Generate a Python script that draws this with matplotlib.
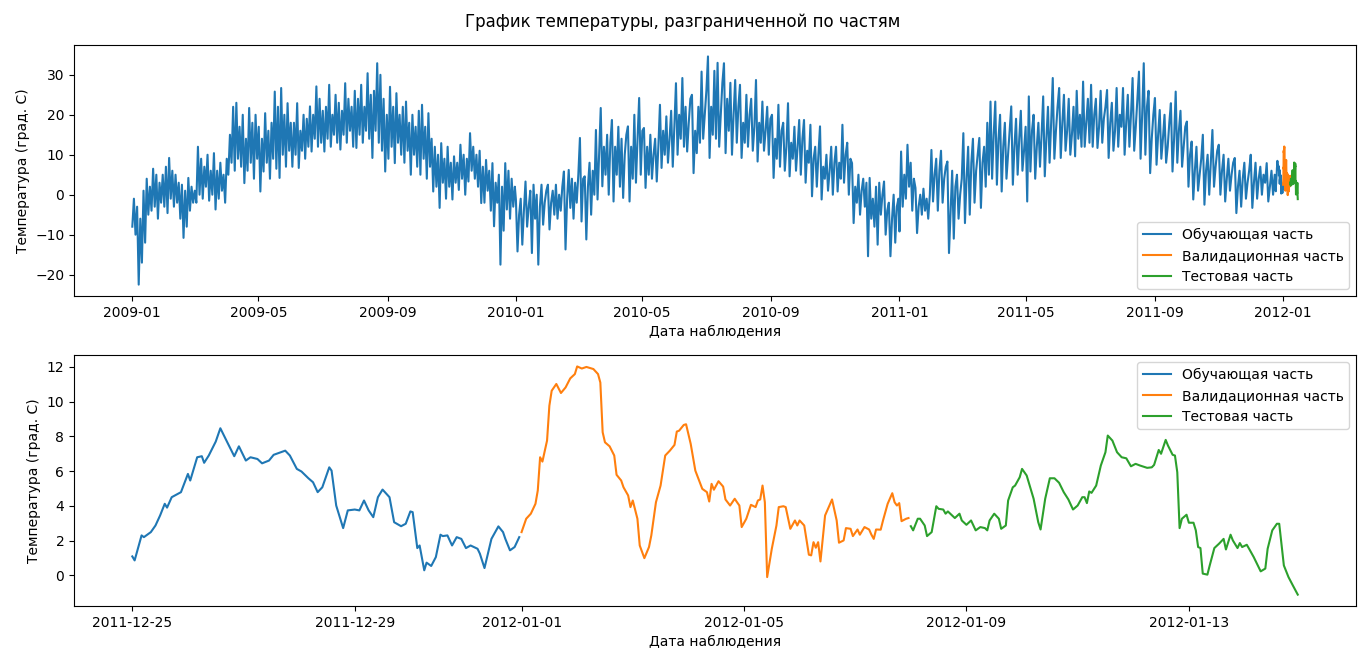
"""
График температуры, разграниченной по частям (обучающая / валидационная / тестовая).
"""
import pandas as pd
import matplotlib
matplotlib.use('Agg')
import matplotlib.pyplot as plt

# --- верхний график: значения (~каждые 1.5 дня) ---
blue_2009 = [
    -8, -1, -10, -3, -22.5, -6, -17, 1, -12, 4, -5, 2, -4, 6.5, -3, 5, -6, 3, -2, 5,            # янв
    -3, 7, -4.6, 9.2, -1, 6, -3, 5, -2, 3, -6, 2.5, -10.8, 1, -8, 4.2, -4, 2, -2, 1,            # фев
    -2, 12, 0, 9, -1, 7, 2, 10, -1.5, 6, 0, 10.4, -3.7, 6, -1, 8, 1, 5, -2, 9,                  # мар
    5, 15, 8, 22, 6, 23, 9, 17, 7, 20, 2.9, 14, 6, 21.7, 8, 18, 4, 20, 9, 17,                   # апр
    0.8, 14, 5.8, 20.4, 8, 16, 4, 18, 9, 25.8, 6.5, 22, 4.2, 26.7, 10, 20, 7, 22.9, 11, 18,     # май
    7, 18, 10, 22.9, 6.7, 16, 11, 20, 9, 19, 12, 22.1, 10.8, 20, 14, 27.1, 12, 24, 13, 21,      # июн
    10.8, 22, 14, 27.5, 12, 20, 15, 25, 13, 23, 11.3, 21, 15, 27.9, 13, 24, 16, 22, 12, 26,     # июл
    11.7, 24, 15, 27.5, 13, 22, 16, 30.4, 14, 25, 9.2, 26, 16, 32.9, 13, 30, 11, 24, 5.8, 20,   # авг
    9, 27, 12, 22, 7.9, 25.4, 13, 20, 10, 22, 8, 23.3, 11, 18, 5, 20, 10, 17, 7, 21,            # сен
    5, 22.5, 9, 17, 4, 20.4, 7, 14, 0.8, 12, 2, 10, -3.3, 12.9, 3, 9, -1, 12, 2, 8,             # окт
    -1.2, 9.6, 3, 8, 1.2, 12.5, 4, 10, 0, 9, 3.3, 15.4, 6, 12, 4, 10, 2, 11, -2.1, 7,           # ноя
    -2, 8.7, 1, 6, -4, 7.9, -7.9, 3, -2, 5, -17.5, 2, -9, 7.9, -3.7, 6, -6, 4, -3, 2,           # дек
]
blue_2010 = [
    -1.2, -14.2, -5, -1, -12.5, -4, 3.3, -8, -3, 1, -14.6, 2.5, -6, 0, -17.5, -3, 2.5, -7.5, -2, 1,
    2.5, -8.7, -2, 1, -5, 2.5, -6, 0, -4, 2, 5.8, -13.7, -1, 6.2, -3.3, 4, -6, 3, -2, 5,
    14.2, -6.7, 4, 4.6, -11.2, 2, 8, -5, 6, 0, 16.2, -1.2, 10, 21.7, 2.1, 12, 5, 15, 0, 13,
    18.7, -1.7, 12, 5, 17, 2, 14, -0.8, 10, 15, 17.1, -1.7, 12, 4, 20, 3, 14, 24.2, 5, 16,
    16.7, 1.7, 12, 5, 15, 4, 10, 14, 3.3, 12, 22.5, 6.7, 16, 10, 19.6, 8, 14, 21, 7, 17,
    27.9, 10, 20, 14, 29.2, 12, 22, 10.8, 18, 24, 25, 5.4, 16, 10.4, 22, 13, 30.8, 14, 20, 26,
    34.6, 9.2, 22, 15, 31, 14, 33, 12, 20, 28, 32.9, 10.4, 24, 16, 28, 10, 20, 28.7, 13, 22,
    27.5, 9.2, 18, 13, 25, 12, 20, 24, 11, 17, 28.7, 8.3, 18, 13, 23.3, 11, 16, 22, 10, 19,
    20, 4.2, 14, 9, 22.5, 7, 16, 18, 6, 12, 22.9, 4.6, 13, 9, 17, 6, 12, 18.7, 5, 14,
    18.7, 3, 11, 8, 17.5, -0.4, 9, 12, 2, 10, 17.1, -1.2, 7, 4, 10, 1, 6, 12, 0, 8,
    12, 0.8, 8, 4, 17.5, 3, 10, 13, 0, 9, 7.9, -7.1, 2, -2, 5, -5, 1, 4, -3, 3,
    -15.4, 4.2, -6, -1, -8, 2, -12.5, 3, -5, 0, 3.3, -10, -4, -2, -15.4, -6, 0, -12, -3, -1,
]
blue_2011 = [  # до 24 декабря
    -9.2, 10.8, -3, 5, -1, 12.5, 2, 8, -4, 4, 1.7, -9.6, -3, 0, -5, 1.5, -4, -1, -6, 0,
    11.2, -1.7, 5, 9, -4, 6, 11, -2, 4, 7, 8.3, -14.6, -4, 6, -11, 2, 5, -6, 0, 4,
    15.4, -7.1, 4, 12, -5, 8, 14, -2, 6, 10, 14.2, -3.3, 8, 12, 2, 18, 5, 23.3, 4, 15,
    23.3, 2.5, 14, 20, 0.8, 12, 18, 4, 10, 16, 22.1, 2.5, 12, 19, 5, 14, 21, 6, 11, 17,
    -1.7, 24.6, 5.8, 16, 20, 4, 12, 18, 7, 15, 24.6, 4.6, 14, 22, 8, 18, 29.2, 9, 16, 22,
    26.7, 9.2, 18, 25, 11, 16, 24, 10, 15, 22, 9.6, 26, 14, 20, 12, 28.3, 12, 18, 24, 13,
    27.5, 12, 20, 24, 11.7, 17, 26, 13, 19, 22, 26.2, 9.2, 18, 23, 11, 16, 26.7, 12, 20, 17,
    26.7, 10, 18, 25, 12, 20, 29.2, 11, 17, 24, 30.8, 9, 20, 32.9, 10, 22, 26, 5.4, 14, 20,
    24.2, 7.5, 15, 21.2, 9, 14, 20, 8, 12, 18, 22.9, 5.8, 14, 25.8, 8, 16, 21, 7, 12, 17,
    18.3, 2, 10, 13.3, -1.2, 6, 12, 1, 5, 9, 15, -2.5, 6, 10, 0, 8, 16.2, 2, 7, 11,
    12.5, 0, 6, 10, -1.7, 4, 9, 1, 5, 8, 9.2, -4.6, 2, 6, -3, 4, 8, -1, 3, 6,
    10, -3.3, 3, 8, -1, 4, 7, 0, 5, 3, 7.9, -1.7, 2, 6, 0, 5,
]

# --- нижний график: часы от 2011-12-25 00:00 и температура ---
train_hours = [0, 1, 4, 5, 8, 10, 12, 14, 15, 17, 21, 24, 25, 28, 30, 31, 33, 36, 38, 41,
               44, 46, 49, 51, 54, 56, 59, 61, 66, 68, 71, 73, 76, 78, 80, 82, 85, 86, 88, 91,
               93, 96, 98, 100, 102, 104, 106, 108, 111, 113, 116, 118, 120, 121, 123, 124,
               126, 127, 129, 131, 133, 134, 136, 138, 140, 142, 144, 146, 149, 150, 152,
               155, 158, 160, 161, 163, 165, 167]
train_temp = [1.09, 0.86, 2.3, 2.2, 2.49, 2.87, 3.45, 4.12, 3.9, 4.5, 4.79, 5.84, 5.46, 6.8,
              6.86, 6.48, 6.9, 7.7, 8.47, 7.66, 6.86, 7.43, 6.61, 6.8, 6.7, 6.45, 6.61, 6.94,
              7.18, 6.9, 6.13, 5.98, 5.59, 5.36, 4.79, 5.07, 6.22, 6.03, 4.02, 2.72, 3.74,
              3.79, 3.74, 4.31, 3.74, 3.35, 4.5, 4.94, 4.5, 3.06, 2.83, 2.97, 3.68, 3.64,
              1.57, 1.72, 0.29, 0.73, 0.54, 1.05, 2.34, 2.26, 2.3, 1.72, 2.2, 2.1, 1.57, 1.72,
              1.53, 1.25, 0.42, 2.1, 2.82, 2.49, 2.1, 1.44, 1.63, 2.2]

val_hours = [168, 170, 172, 174, 175, 176, 177, 179, 180, 181, 183, 185, 187, 189, 191, 192,
             194, 196, 199, 201, 202, 203, 204, 206, 208, 209, 211, 212, 214, 215, 216, 218,
             219, 221, 223, 224, 226, 228, 230, 232, 234, 235, 236, 238, 239, 241, 243, 246,
             248, 249, 250, 251, 253, 255, 256, 258, 260, 261, 262, 263, 265, 267, 269, 270,
             271, 272, 273, 274, 276, 278, 279, 281, 282, 284, 286, 287, 288, 290, 292, 293,
             294, 295, 296, 297, 299, 301, 302, 304, 305, 307, 308, 310, 311, 313, 314, 316,
             318, 319, 320, 321, 323, 324, 326, 328, 329, 330, 331, 332, 334, 335]
val_temp = [2.49, 3.26, 3.55, 4.12, 4.89, 6.8, 6.55, 7.76, 9.77, 10.63, 11.02, 10.5, 10.82,
            11.34, 11.59, 12.03, 11.91, 12.0, 11.88, 11.59, 11.1, 8.24, 7.66, 7.43, 6.9, 5.79,
            5.46, 5.07, 4.6, 3.93, 4.31, 3.26, 1.72, 0.99, 1.63, 2.3, 4.21, 5.17, 6.9, 7.18,
            7.51, 8.28, 8.33, 8.66, 8.7, 7.57, 6.03, 4.98, 4.79, 4.25, 5.27, 4.93, 5.42, 5.11,
            4.37, 4.02, 4.41, 4.21, 4.02, 2.78, 3.26, 4.06, 3.93, 4.31, 4.37, 5.17, 4.21, -0.1,
            1.53, 2.87, 3.93, 3.98, 3.93, 2.68, 3.16, 2.87, 3.16, 2.87, 1.19, 1.15, 1.91, 1.59,
            1.91, 0.8, 3.45, 4.06, 4.37, 3.16, 1.88, 2.01, 2.72, 2.68, 2.26, 2.64, 2.34, 2.78,
            2.64, 2.34, 2.1, 2.64, 2.63, 3.16, 4.12, 4.73, 4.21, 4.02, 4.16, 3.12, 3.26, 3.3]

test_hours = [336, 337, 339, 340, 342, 343, 345, 347, 348, 350, 351, 352, 355, 357, 358, 360,
              362, 364, 366, 368, 369, 370, 372, 374, 375, 377, 378, 380, 381, 383, 384, 386,
              389, 391, 392, 394, 396, 398, 400, 402, 404, 406, 408, 410, 411, 412, 413, 414,
              416, 418, 420, 421, 423, 425, 427, 429, 431, 433, 435, 438, 440, 441, 443, 444,
              446, 447, 449, 450, 451, 452, 453, 455, 456, 458, 459, 460, 461, 462, 464, 465,
              467, 469, 471, 472, 474, 475, 477, 478, 479, 481, 482, 484, 487, 489, 490, 492,
              493, 494, 495, 497, 499, 501, 503]
test_temp = [2.83, 2.59, 3.26, 3.26, 2.87, 2.26, 2.49, 3.98, 3.83, 3.79, 3.55, 3.68, 3.3, 3.55,
             3.16, 2.91, 3.16, 2.59, 2.78, 2.72, 2.59, 3.16, 3.55, 3.26, 2.68, 2.87, 4.31, 5.07,
             5.17, 5.65, 6.13, 5.75, 4.41, 3.06, 2.64, 4.41, 5.59, 5.59, 5.33, 4.79, 4.37, 3.79,
             4.02, 4.5, 4.5, 4.16, 4.83, 4.75, 5.17, 6.32, 7.09, 8.05, 7.76, 7.09, 6.8, 6.74,
             6.28, 6.42, 6.32, 6.19, 6.22, 6.36, 7.22, 7.0, 7.8, 7.47, 6.94, 6.9, 5.94, 2.72,
             3.26, 3.49, 3.03, 3.03, 2.59, 1.63, 1.57, 0.1, 0.04, 0.57, 1.57, 1.82, 2.1, 1.49,
             2.34, 2.01, 1.57, 1.86, 1.63, 1.76, 1.53, 1.05, 0.23, 0.39, 1.53, 2.59, 2.78, 2.97,
             2.97, 0.57, -0.1, -0.61, -1.11]

labels = ['Обучающая часть', 'Валидационная часть', 'Тестовая часть']


def hours_to_dates(hours):
    return pd.Timestamp('2011-12-25') + pd.to_timedelta(hours, unit='h')


train = pd.Series(train_temp, index=hours_to_dates(train_hours))
val = pd.Series(val_temp, index=hours_to_dates(val_hours))
test = pd.Series(test_temp, index=hours_to_dates(test_hours))

coarse = pd.concat([
    pd.Series(blue_2009, index=pd.date_range('2009-01-01', '2009-12-31', periods=len(blue_2009))),
    pd.Series(blue_2010, index=pd.date_range('2010-01-01', '2010-12-31', periods=len(blue_2010))),
    pd.Series(blue_2011, index=pd.date_range('2011-01-01', '2011-12-24', periods=len(blue_2011))),
])
train_full = pd.concat([coarse, train])

fig, (ax1, ax2) = plt.subplots(2, 1, figsize=(13.66, 6.64), dpi=100)
fig.subplots_adjust(left=0.0542, right=0.9927, top=0.9322, bottom=0.0873, hspace=0.235)
fig.suptitle('График температуры, разграниченной по частям')

ax1.plot(train_full.index, train_full.values, label=labels[0])
ax1.plot(val.index, val.values, label=labels[1])
ax1.plot(test.index, test.values, label=labels[2])
ax1.set_xlabel('Дата наблюдения')
ax1.set_ylabel('Температура (град. С)')
ax1.legend(loc='lower right')

ax2.plot(train.index, train.values, label=labels[0])
ax2.plot(val.index, val.values, label=labels[1])
ax2.plot(test.index, test.values, label=labels[2])
ax2.set_xlabel('Дата наблюдения')
ax2.set_ylabel('Температура (град. С)')
ax2.legend(loc='upper right')

plt.savefig('out.png', dpi=100)
plt.close()
